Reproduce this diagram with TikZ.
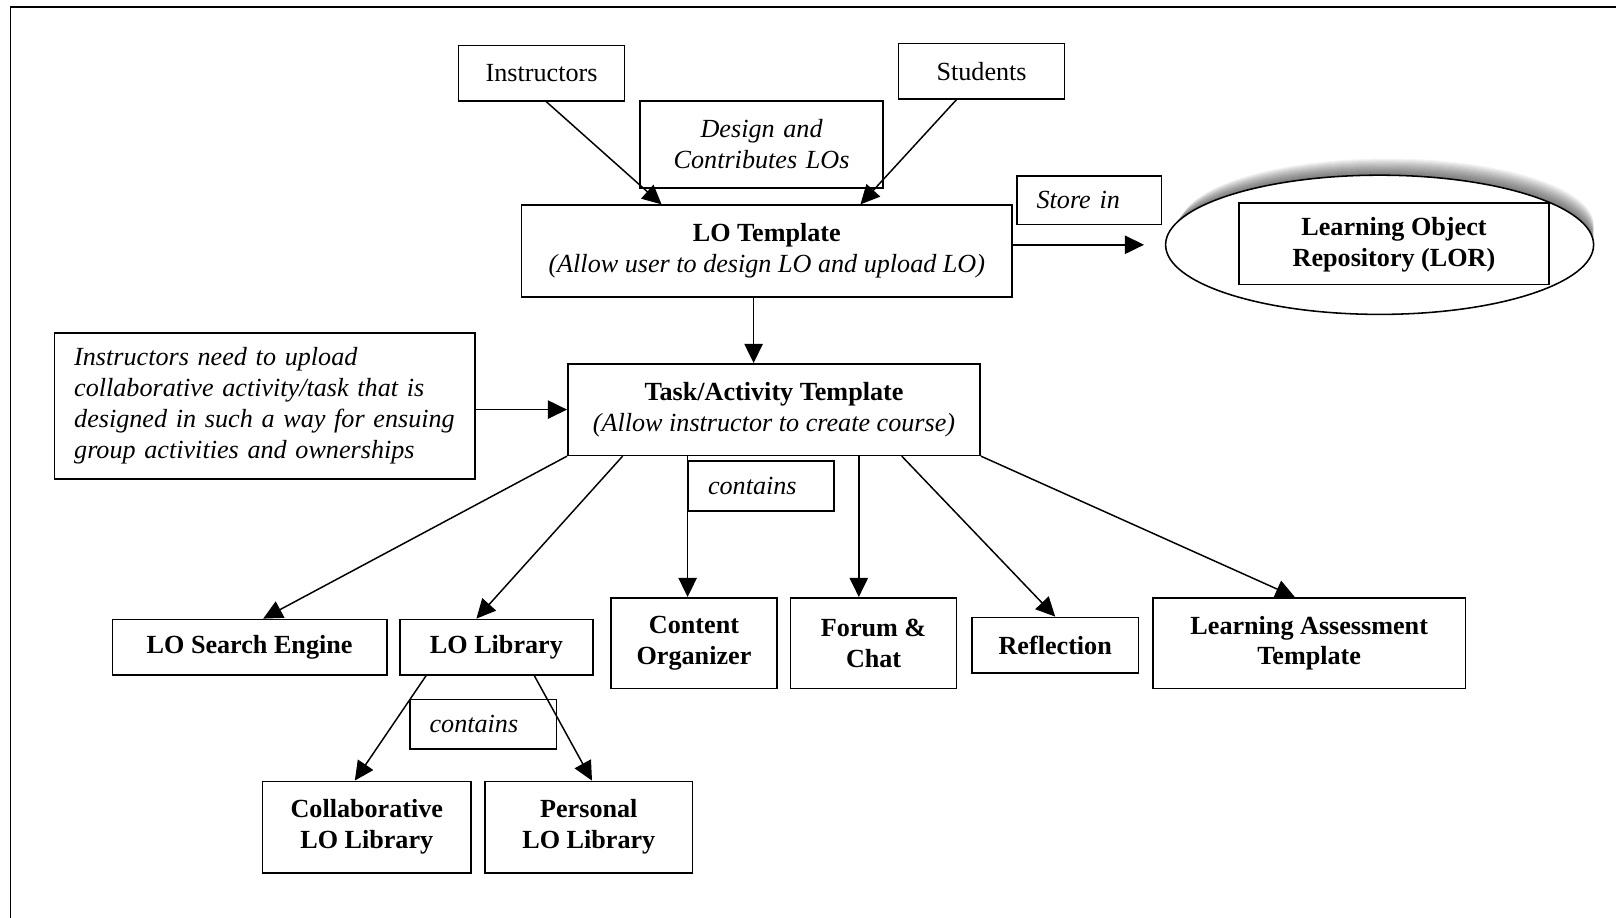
\documentclass[tikz,border=0pt]{standalone}
\usepackage{fontspec}
\setmainfont{Liberation Serif}
\usetikzlibrary{arrows.meta,positioning,calc,shapes.geometric,backgrounds}
\newcommand{\dgfont}{\fontsize{18.6}{22}\selectfont}
\tikzset{
  box/.style={draw=black,fill=white,line width=1.1pt,align=center,inner sep=0pt,font=\dgfont\bfseries},
  plain/.style={box,font=\dgfont},
  note/.style={draw=black,fill=white,line width=1.1pt,align=left,inner xsep=0.49cm,inner ysep=0pt,font=\dgfont\itshape},
  arr/.style={-{Triangle[length=0.48cm,width=0.46cm]},line width=1.05pt,draw=black},
}
\begin{document}
\begin{tikzpicture}
  \useasboundingbox (0,0) rectangle (40.4,22.95);
  % outer frame, the page cuts it on the right and at the bottom
  \draw[line width=1.1pt] (0.26,-0.3) -- (0.26,22.77) -- (40.7,22.77);

  % who designs the LOs
  \node[plain,minimum width=4.15cm,minimum height=1.39cm] (instr) at (13.54,21.12) {Instructors};
  \node[plain,minimum width=4.15cm,minimum height=1.39cm] (stud) at (24.54,21.17) {Students};
  \node[note,align=center,text width=5.1cm,minimum height=2.17cm] (design) at (19.04,19.34) {Design and\\Contributes LOs};
  \node[box,minimum width=12.26cm,minimum height=2.29cm] (lot) at (19.17,16.675) {LO Template\\{\mdseries\itshape (Allow user to design LO and upload LO)}};

  % repository
  \node[note,text width=2.63cm,minimum height=1.21cm] (store) at (27.23,17.94) {Store in};
  \node[ellipse,draw=black,fill=white,line width=1.1pt,inner sep=0pt,minimum width=10.7cm,minimum height=3.48cm] (repo) at (34.49,16.83) {};
  \begin{scope}[on background layer]
    \foreach \k in {1,...,16}
      \fill[black,opacity=0.045] ($(repo.center)+(0.012*\k,0.032*\k)$) ellipse ({5.35-0.012*\k} and {1.74-0.006*\k});
  \end{scope}
  \node[box,minimum width=7.76cm,minimum height=2.04cm,text depth=0.1cm] (lor) at (34.85,16.86) {Learning Object\\Repository (LOR)};

  % course level
  \node[note,text width=9.53cm,minimum height=3.66cm] (need) at (6.62,12.8) {Instructors need to upload\\collaborative activity/task that is\\designed in such a way for ensuing\\group activities and ownerships};
  \node[box,minimum width=10.31cm,minimum height=2.29cm] (task) at (19.35,12.71) {Task/Activity Template\\{\mdseries\itshape (Allow instructor to create course)}};
  \node[note,text width=2.66cm,minimum height=1.26cm] (cont1) at (19.03,10.80) {contains};

  % parts of a course
  \node[box,minimum width=6.86cm,minimum height=1.39cm] (search) at (6.24,6.77) {LO Search Engine};
  \node[box,minimum width=4.82cm,minimum height=1.39cm] (lib) at (12.41,6.77) {LO Library};
  \node[box,minimum width=4.15cm,minimum height=2.27cm] (content) at (17.35,6.87) {Content\\Organizer};
  \node[box,minimum width=4.15cm,minimum height=2.27cm] (forum) at (21.84,6.87) {Forum \&\\Chat};
  \node[box,minimum width=4.17cm,minimum height=1.39cm] (refl) at (26.38,6.82) {Reflection};
  \node[box,minimum width=7.81cm,minimum height=2.27cm] (assess) at (32.73,6.87) {Learning Assessment\\Template};

  % libraries
  \node[note,text width=2.68cm,minimum height=1.24cm] (cont2) at (12.08,4.84) {contains};
  \node[box,minimum width=5.21cm,minimum height=2.29cm] (collab) at (9.17,2.27) {Collaborative\\LO Library};
  \node[box,minimum width=5.18cm,minimum height=2.29cm] (pers) at (14.72,2.27) {Personal\\LO Library};

  % connectors
  \draw[arr] ([xshift=0.12cm]instr.south) -- ([xshift=-2.63cm]lot.north);
  \draw[arr] ([xshift=-0.63cm]stud.south) -- ([xshift=2.34cm]lot.north);
  \draw[arr,shorten >=0.52cm] (lot.east |- repo.west) -- (repo.west);
  \draw[arr] ([xshift=-0.33cm]lot.south) -- ([xshift=-0.33cm]lot.south |- task.north);
  \draw[arr] (need.east |- task.west) -- (task.west);
  \draw[arr] (task.south west) -- ([xshift=0.34cm]search.north);
  \draw[arr] ([xshift=1.39cm]task.south west) -- ([xshift=-0.5cm]lib.north);
  \draw[arr] (task.south -| cont1.west) -- (cont1.west |- content.north);
  \draw[arr] ([xshift=-0.37cm]forum.north |- task.south) -- ([xshift=-0.37cm]forum.north);
  \draw[arr] ([xshift=-1.98cm]task.south east) -- (refl.north);
  \draw[arr] (task.south east) -- ([xshift=-0.36cm]assess.north);
  \draw[arr] ([xshift=0.67cm]lib.south west) -- ([xshift=-0.3cm]collab.north);
  \draw[arr] ([xshift=-1.48cm]lib.south east) -- ([xshift=0.08cm]pers.north);
\end{tikzpicture}
\end{document}
